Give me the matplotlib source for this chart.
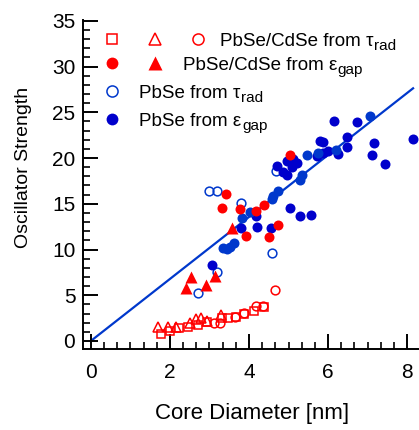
import matplotlib
matplotlib.use("Agg")
import matplotlib.pyplot as plt
from matplotlib.ticker import MultipleLocator
import numpy as np

plt.rcParams['font.family'] = ['Liberation Sans', 'DejaVu Sans']

# PbSe/CdSe from tau_rad (open red squares, triangles, circles)
core_sq_x = [1.77, 2.00, 2.24, 2.46, 2.70, 2.94, 3.32, 3.46, 3.66, 3.88, 4.13, 4.38]
core_sq_y = [0.77, 1.13, 1.39, 1.56, 1.75, 2.11, 2.48, 2.55, 2.59, 2.95, 3.28, 3.75]
core_tri_x = [1.70, 1.96, 2.15, 2.51, 2.66, 2.78, 2.95, 3.29]
core_tri_y = [1.50, 1.50, 1.50, 2.00, 2.37, 2.48, 2.22, 2.84]
core_circ_x = [3.11, 3.27, 3.65, 3.88, 4.18, 4.35, 4.66]
core_circ_y = [1.94, 1.94, 2.59, 3.10, 3.86, 3.86, 5.58]

# PbSe/CdSe from eps_gap (filled red circles, triangles)
cs_gap_circ_x = [3.41, 3.31, 3.77, 3.92, 4.18, 4.38, 4.73, 4.51, 5.04]
cs_gap_circ_y = [16.03, 14.55, 14.44, 11.52, 14.22, 14.88, 12.69, 11.32, 20.35]
cs_gap_tri_x = [2.54, 2.41, 2.90, 3.13, 3.56]
cs_gap_tri_y = [7.00, 5.77, 6.13, 7.06, 12.33]

# PbSe from tau_rad (open blue circles)
pbse_rad_x = [2.99, 3.18, 3.79, 4.58, 3.20, 2.70, 4.68]
pbse_rad_y = [16.41, 16.41, 15.07, 9.60, 7.49, 5.28, 18.60]

# PbSe from eps_gap (filled blue circles, two data sets)
pbse_gap_a_x = [3.06, 3.80, 4.18, 4.19, 4.56, 4.72, 4.87, 4.96, 4.95, 5.08, 5.12,
                5.21, 5.71, 5.80, 5.87, 5.87, 5.99, 6.24, 6.47, 6.48, 6.15, 6.72,
                7.15, 7.11, 7.44, 8.16, 5.04, 5.28, 5.56]
pbse_gap_a_y = [8.32, 12.31, 13.71, 12.42, 12.33, 19.15, 18.52, 18.11, 19.69, 19.04, 19.88,
                19.51, 20.24, 21.88, 21.81, 20.54, 20.79, 20.46, 22.35, 21.23, 24.07, 23.93,
                21.61, 20.35, 19.37, 22.10, 14.50, 13.68, 13.79]
pbse_gap_b_x = [3.35, 3.44, 3.52, 3.62, 3.82, 4.03, 4.58, 4.61, 4.73, 5.29, 5.33,
                5.46, 5.75, 6.20, 7.06]
pbse_gap_b_y = [10.12, 10.07, 10.28, 10.67, 13.42, 14.15, 15.54, 15.86, 16.41, 17.61, 18.16,
                20.30, 20.54, 20.84, 24.62]

# linear fit
fit_x = [0.0, 8.15]
fit_slope = 3.39

legend_main = ['PbSe/CdSe from τ', 'PbSe/CdSe from ε', 'PbSe from τ', 'PbSe from ε']
legend_sub = ['rad', 'gap', 'rad', 'gap']

red = '#FF0000'
blue_dark = '#0000CC'
blue = '#0038CC'

fig = plt.figure(figsize=(4.19, 4.30), dpi=100)
ax = fig.add_axes([0.198, 0.1884, 0.802, 0.7651])

ax.plot(fit_x, np.array(fit_x) * fit_slope, color=blue, lw=1.6, zorder=1.5)

ms_open = dict(mfc='none', lw=0, mew=1.1)
ax.plot(core_sq_x, core_sq_y, 's', ms=5.5, mec=red, **ms_open)
ax.plot(core_tri_x, core_tri_y, '^', ms=6.5, mec=red, **ms_open)
ax.plot(core_circ_x, core_circ_y, 'o', ms=6.3, mec=red, **ms_open)
ax.plot(pbse_rad_x, pbse_rad_y, 'o', ms=6.3, mec=blue, **ms_open)

ax.plot(pbse_gap_a_x, pbse_gap_a_y, 'o', ms=7.2, color=blue_dark, mec='none', lw=0)
ax.plot(pbse_gap_b_x, pbse_gap_b_y, 'o', ms=7.2, color=blue, mec='none', lw=0)
ax.plot(cs_gap_circ_x, cs_gap_circ_y, 'o', ms=7.2, color=red, mec='none', lw=0)
ax.plot(cs_gap_tri_x, cs_gap_tri_y, '^', ms=8, color=red, mec='none', lw=0)

# hand-placed legend (axes fraction)
tr = ax.transAxes
rows = [0.942, 0.868, 0.784, 0.699]
mx = [0.0854, 0.214, 0.343]
ax.plot(mx[0], rows[0], 's', ms=7.5, mfc='none', mec=red, mew=1.1, transform=tr, clip_on=False)
ax.plot(mx[1], rows[0], '^', ms=8.5, mfc='none', mec=red, mew=1.1, transform=tr, clip_on=False)
ax.plot(mx[2], rows[0], 'o', ms=8, mfc='none', mec=red, mew=1.1, transform=tr, clip_on=False)
ax.plot(mx[0], rows[1], 'o', ms=8.5, color=red, mec='none', transform=tr, clip_on=False)
ax.plot(mx[1], rows[1], '^', ms=9.5, color=red, mec='none', transform=tr, clip_on=False)
ax.plot(mx[0], rows[2], 'o', ms=8, mfc='none', mec=blue, mew=1.1, transform=tr, clip_on=False)
ax.plot(mx[0], rows[3], 'o', ms=8.5, color=blue_dark, mec='none', transform=tr, clip_on=False)

text_x = [0.408, 0.297, 0.168, 0.168]
off = 0.02
for i in range(4):
    t = ax.text(text_x[i], rows[i] - off, legend_main[i], transform=tr, fontsize=13.5, va='baseline')
    ax.annotate(legend_sub[i], xy=(1, 0), xycoords=t, xytext=(0.5, 0), textcoords='offset points',
                fontsize=11, va='baseline', ha='left')

ax.set_xlim(-0.2, 8.3)
ax.set_ylim(-0.88, 35.1)
ax.xaxis.set_major_locator(MultipleLocator(2))
ax.xaxis.set_minor_locator(MultipleLocator(2 / 6))
ax.yaxis.set_major_locator(MultipleLocator(5))
ax.yaxis.set_minor_locator(MultipleLocator(1))

for s in ['top', 'right']:
    ax.spines[s].set_visible(False)
for s in ['left', 'bottom']:
    ax.spines[s].set_linewidth(1.4)

ax.tick_params(which='major', direction='in', length=10.5, width=1.4, labelsize=15)
ax.tick_params(which='minor', direction='in', length=5, width=1.2)
ax.tick_params(axis='x', which='major', pad=10)
ax.tick_params(axis='y', which='major', pad=5.5)

ax.set_xlabel('Core Diameter [nm]', fontsize=16, va='center')
ax.xaxis.set_label_coords(0.503, -0.195)
ax.set_ylabel('Oscillator Strength', fontsize=14, va='center')
ax.yaxis.set_label_coords(-0.176, 0.552)

fig.savefig('out.png', dpi=100)
